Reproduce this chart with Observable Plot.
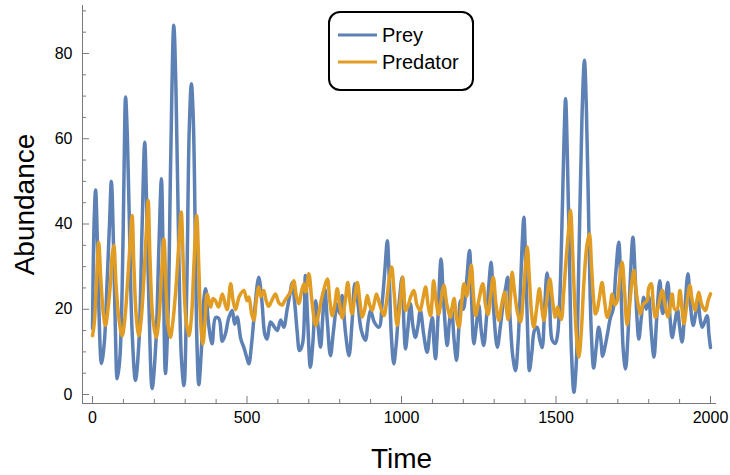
<!DOCTYPE html>
<html>
<head>
<meta charset="utf-8">
<script src="https://cdn.jsdelivr.net/npm/d3@7"></script>
<script src="https://cdn.jsdelivr.net/npm/@observablehq/plot@0.6"></script>
<style>
  html, body { margin: 0; padding: 0; background: #fff; }
  #chart { width: 730px; height: 475px; }
</style>
</head>
<body>
<div id="chart"></div>
<script>
// ---------- data ----------
const seriesNames = ["Prey", "Predator"];
const seriesColors = ["#5E81B5", "#E19C24"];

const preyPoints = [
  [0,15.5],[5,40],[10,48],[15,38],[20,22],[29,7.3],[38,12],[47,26],[55,40],[61,50],[68,35],[74,15],[80,3.7],[88,8],[96,25],
  [102,52],[107,69.8],[113,60],[120,38],[128,15],[139,3.3],[150,12],[160,38],[169,59.2],[175,45],[183,20],[193,1.4],[205,12],
  [215,35],[223,50.6],[229,30],[236,4.9],[245,20],[253,55],[263,86.6],[270,72],[280,30],[288,8],[296,2.1],[305,25],[313,62],
  [320,72.9],[326,65],[333,35],[338,12],[344,2.3],[352,10],[360,22],[366,24.8],[375,17],[387,11.9],[398,18],[409,17.8],[420,12.5],
  [430,14.2],[441,18],[452,19.7],[460,16.5],[468,18.2],[480,13],[490,11],[500,8.5],[506,7.2],[515,12],[525,20],[538,27.5],[548,22],
  [558,14],[565,13],[576,17],[587,16],[598,15],[609,17.5],[619,15.8],[630,20],[640,24],[646,26.3],[655,21],[662,15],[670,10.3],
  [680,12],[689,27.9],[696,18],[705,6.4],[713,12],[722,22],[730,16],[738,11.1],[745,18],[752,24.8],[760,17],[770,9.1],[780,15],
  [792,21.3],[800,19],[808,23.2],[818,15],[830,9.1],[840,17],[849,26],[858,22],[870,15],[883,12.7],[892,17],[900,19.7],[912,17],
  [927,15.8],[938,22],[947,30],[954,36.1],[960,28],[967,14],[975,7.2],[983,12],[993,22],[1002,27.5],[1008,16],[1013,10.7],[1020,15],
  [1029,21.3],[1037,16],[1045,13.4],[1053,16],[1061,19.7],[1072,14],[1083,9.9],[1092,15],[1100,18],[1105,12],[1110,8.4],[1118,18],
  [1128,31.8],[1136,22],[1148,11.5],[1155,17],[1162,20],[1170,13],[1178,8],[1185,15],[1191,22],[1200,20],[1210,26],[1220,33.8],
  [1227,22],[1234,11.9],[1242,16],[1250,21],[1258,15],[1266,11.5],[1275,18],[1283,26],[1290,31],[1298,20],[1310,11.1],[1320,16],
  [1330,22],[1337,25],[1344,27.5],[1352,17],[1360,9],[1369,5.6],[1377,12],[1385,25],[1391,36],[1396,41.6],[1402,30],[1408,15],
  [1414,5.6],[1422,10],[1430,15],[1439,15.8],[1447,13],[1455,11],[1463,20],[1471,28.5],[1479,22],[1488,12.7],[1498,12],[1505,14],
  [1512,22],[1520,42],[1526,60],[1531,69.4],[1537,55],[1544,30],[1550,10],[1558,0.5],[1566,8],[1575,35],[1584,65],[1592,78.4],
  [1598,68],[1606,40],[1614,15],[1622,6.2],[1630,11],[1638,15.8],[1645,13],[1651,9],[1658,11],[1666,14],[1676,18],[1685,20],
  [1693,28],[1703,35.7],[1710,25],[1718,10],[1725,6],[1733,14],[1741,28],[1749,36.9],[1756,28],[1762,18],[1768,13],[1776,18],
  [1784,22.8],[1792,20],[1800,23],[1808,15],[1817,8.8],[1826,18],[1836,26.7],[1845,19],[1852,21],[1862,26.3],[1869,18],[1876,13.4],
  [1885,17],[1893,20],[1900,16],[1908,12.3],[1917,20],[1927,28.3],[1935,21],[1944,16.2],[1952,19],[1959,22.5],[1966,18],[1973,15.8],
  [1981,17],[1989,18.5],[1995,14],[2000,11]
];

const predatorPoints = [
  [0,13.8],[6,17],[12,25],[20,35.7],[27,27],[35,19],[42,16.2],[50,20],[58,26],[64,33],[69,35],[76,26],[85,18],[96,13.8],[105,18],
  [114,27],[122,36],[128,42],[134,30],[142,18],[150,13.8],[158,18],[166,27],[174,38],[180,45.5],[186,32],[195,18],[206,13.4],
  [214,17],[222,26],[231,36.5],[238,25],[245,16],[252,13.4],[260,17],[270,25],[280,36],[287,42.8],[294,30],[302,18],[312,13.8],
  [320,18],[328,30],[337,42],[344,30],[350,17],[357,11.8],[364,17],[371,23.6],[382,20.5],[390,22.5],[398,22],[408,20.5],[420,23.6],
  [430,21],[436,19.9],[447,26],[455,22],[463,19.9],[475,23],[490,24.4],[500,22],[506,22.9],[515,19],[522,17.4],[530,22],[538,25.2],
  [545,23],[554,24.4],[562,22],[570,20.7],[580,22],[592,23.6],[603,21.5],[614,21],[622,22],[630,22.9],[640,24],[651,26.7],[660,23],
  [668,21.3],[676,24],[684,26],[690,24],[700,28.3],[710,22],[722,16.2],[732,19],[740,22],[750,25],[760,27.1],[768,22],[776,18.5],
  [784,21],[792,24.8],[800,21],[808,18],[818,22],[826,26.3],[833,22],[840,18.9],[849,23],[857,26.3],[865,22],[873,18.2],[881,20],
  [889,23.2],[897,21],[905,19.7],[912,21.5],[919,23.6],[930,21],[943,18.5],[952,22],[960,27],[968,29.9],[976,24],[986,16.2],[995,21],
  [1004,27.5],[1008,24],[1013,19.7],[1022,21],[1030,23],[1040,24.4],[1050,21],[1060,19.7],[1068,22],[1078,25.2],[1086,21],[1094,18.5],
  [1099,22],[1104,26.7],[1112,22],[1120,18.8],[1128,22],[1137,25.6],[1147,21],[1159,18.1],[1165,21],[1170,22.5],[1178,18],[1186,15.8],
  [1194,21],[1202,26],[1210,23],[1218,26],[1226,30.3],[1233,23],[1240,18.5],[1250,22],[1263,26],[1272,21],[1280,18.8],[1288,23],
  [1297,27.5],[1306,21],[1315,17.4],[1324,21],[1334,24],[1340,20],[1345,17.6],[1352,22],[1358,28.7],[1366,24],[1376,19],[1385,17],
  [1395,24],[1402,31],[1407,34.6],[1414,27],[1421,19],[1428,15.8],[1437,20],[1446,24.8],[1453,21],[1461,17.4],[1470,22],[1480,27.1],
  [1489,22],[1498,18.1],[1505,20.5],[1510,19],[1517,17.6],[1525,24],[1533,32],[1540,38],[1547,43.2],[1553,35],[1560,22],[1567,13],
  [1574,8.8],[1582,15],[1590,26],[1600,35],[1608,37.7],[1615,30],[1622,22],[1628,18.9],[1633,19.7],[1641,23],[1649,26.3],[1657,22],
  [1666,18.1],[1674,20],[1682,23.6],[1690,21],[1698,22],[1706,27],[1714,31],[1722,24],[1730,16.4],[1737,20],[1745,26],[1752,29.1],
  [1758,25],[1766,21],[1773,18.9],[1781,21],[1788,21.6],[1795,22],[1800,25],[1808,26],[1815,21],[1822,18.1],[1832,21],[1844,24.4],
  [1853,21],[1863,18.2],[1870,21],[1876,23.6],[1884,20],[1892,20],[1901,24.4],[1908,20],[1914,16.6],[1923,21],[1933,25.6],[1941,22],
  [1950,19.7],[1956,22],[1962,24],[1972,21],[1984,19.7],[1992,22],[2000,23.6]
];

const xTicks = [0, 500, 1000, 1500, 2000];
const xMinorTicks = [100,200,300,400,600,700,800,900,1100,1200,1300,1400,1600,1700,1800,1900];
const yTicks = [0, 20, 40, 60, 80];
const yMinorTicks = [5,10,15,25,30,35,45,50,55,65,70,75,85,90];

// ---------- layout ----------
const W = 730, H = 475;
const mL = 82, mR = 14, mT = 5, mB = 72;
const plotW = W - mL - mR, plotH = H - mT - mB;
const xDomain = [-32.4, 2019.4];
const yDomain = [-2.11, 91.26];
const axisColor = "#7a7a7a";
const font = "'Liberation Sans', Arial, Helvetica, sans-serif";

const toRows = (pts, name) => pts.map(([t, v]) => ({t, v, name}));
const prey = toRows(preyPoints, seriesNames[0]);
const predator = toRows(predatorPoints, seriesNames[1]);

const chart = Plot.plot({
  width: W, height: H,
  marginLeft: mL, marginRight: mR, marginTop: mT, marginBottom: mB,
  style: {fontFamily: font, background: "#fff", overflow: "visible"},
  x: {domain: xDomain, axis: null},
  y: {domain: yDomain, axis: null},
  marks: [
    // axis lines
    Plot.ruleX([xDomain[0]], {stroke: axisColor, strokeWidth: 1}),
    Plot.ruleY([yDomain[0]], {stroke: axisColor, strokeWidth: 1}),
    // inward ticks
    Plot.tickY(yTicks, {y: d => d, insetRight: plotW - 7, stroke: axisColor}),
    Plot.tickY(yMinorTicks, {y: d => d, insetRight: plotW - 4, stroke: axisColor}),
    Plot.tickX(xTicks, {x: d => d, insetTop: plotH - 7, stroke: axisColor}),
    Plot.tickX(xMinorTicks, {x: d => d, insetTop: plotH - 4, stroke: axisColor}),
    // tick labels
    Plot.axisY({ticks: yTicks, tickSize: 0, tickPadding: 10, fontSize: 16, label: null, tickFormat: d => String(d)}),
    Plot.axisX({ticks: xTicks, tickSize: 0, tickPadding: 8, fontSize: 16, label: null, tickFormat: d => String(d)}),
    // axis titles
    Plot.text(["Abundance"], {frameAnchor: "left", textAnchor: "middle", dx: -57, rotate: -90, fontSize: 28, fill: "#000"}),
    Plot.text(["Time"], {frameAnchor: "bottom", textAnchor: "middle", dx: 2, dy: 64, fontSize: 28, fill: "#000"}),
    // series
    Plot.line(prey, {x: "t", y: "v", stroke: seriesColors[0], strokeWidth: 3.5, curve: "catmull-rom"}),
    Plot.line(predator, {x: "t", y: "v", stroke: seriesColors[1], strokeWidth: 3.5, curve: "catmull-rom"})
  ]
});

// legend inside the plot area
const svg = d3.select(chart);
const lg = svg.append("g").attr("font-family", font).attr("text-anchor", "start");
lg.append("rect").attr("x", 329).attr("y", 12).attr("width", 144).attr("height", 78)
  .attr("rx", 11).attr("ry", 11).attr("fill", "#fff").attr("stroke", "#000").attr("stroke-width", 2);
seriesNames.forEach((name, i) => {
  const y = 35 + i * 27;
  lg.append("line").attr("x1", 338).attr("x2", 377).attr("y1", y).attr("y2", y)
    .attr("stroke", seriesColors[i]).attr("stroke-width", 3);
  lg.append("text").attr("x", 382).attr("y", y).attr("dy", "0.35em")
    .attr("text-anchor", "start").attr("font-size", 20).attr("fill", "#000").text(name);
});

document.getElementById("chart").appendChild(chart);
</script>
</body>
</html>
